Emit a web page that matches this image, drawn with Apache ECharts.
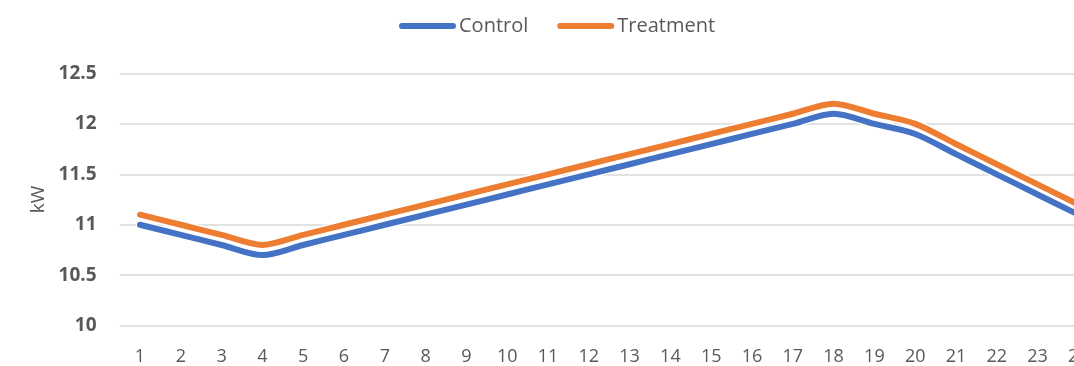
<!DOCTYPE html>
<html>
<head>
<meta charset="utf-8">
<title>Control vs Treatment (kW)</title>
<script src="https://cdn.jsdelivr.net/npm/echarts@6/dist/echarts.min.js"></script>
<style>
  html, body { margin: 0; padding: 0; background: #ffffff; }
  #chart { width: 1074px; height: 366px; }
</style>
</head>
<body>
<div id="chart"></div>
<script>
// Hour of day
const hours = ['1','2','3','4','5','6','7','8','9','10','11','12','13','14','15','16','17','18','19','20','21','22','23','24'];

// Average demand, kW
const control   = [11.0, 10.9, 10.8, 10.7, 10.8, 10.9, 11.0, 11.1, 11.2, 11.3, 11.4, 11.5, 11.6, 11.7, 11.8, 11.9, 12.0, 12.1, 12.0, 11.9, 11.7, 11.5, 11.3, 11.1];
const treatment = [11.1, 11.0, 10.9, 10.8, 10.9, 11.0, 11.1, 11.2, 11.3, 11.4, 11.5, 11.6, 11.7, 11.8, 11.9, 12.0, 12.1, 12.2, 12.1, 12.0, 11.8, 11.6, 11.4, 11.2];

// Value axis range
const yMin = 10, yMax = 12.5, yStep = 0.5;

const BLUE = '#4472C4', ORANGE = '#ED7D31', TEXT = '#595959';
const FONT = '"Open Sans", "DejaVu Sans", sans-serif';
const SMOOTH = 0.3;

// each line gets a white halo drawn just beneath it
function halo(name, data) {
  return {
    name: name + ' halo', type: 'line', data: data, smooth: SMOOTH,
    symbol: 'none', silent: true, legendHoverLink: false,
    lineStyle: { color: '#ffffff', width: 9, cap: 'round', join: 'round' }
  };
}
function line(name, data, color) {
  return {
    name: name, type: 'line', data: data, smooth: SMOOTH,
    symbol: 'none', itemStyle: { color: color },
    lineStyle: { color: color, width: 6, cap: 'round', join: 'round' }
  };
}

const chart = echarts.init(document.getElementById('chart'), null, { renderer: 'canvas' });
chart.setOption({
  animation: false,
  backgroundColor: '#ffffff',
  textStyle: { fontFamily: FONT },
  legend: {
    data: ['Control', 'Treatment'],
    left: 394, top: 11,
    itemWidth: 57, itemHeight: 6, itemGap: 29,
    icon: 'path://M3,0 H54 A3,3 0 0 1 54,6 H3 A3,3 0 0 1 3,0 Z',
    textStyle: { color: TEXT, fontSize: 20, fontFamily: FONT, padding: [0, 0, 0, -2] }
  },
  // the plot runs past the right edge of the canvas, so the last hour is cut off
  grid: {
    left: 119.6, top: 73.4, right: -24.8, bottom: 40.3,
    containLabel: false, outerBoundsMode: 'none'
  },
  xAxis: {
    type: 'category', data: hours, boundaryGap: true,
    axisLine: { show: false }, axisTick: { show: false },
    axisLabel: { color: TEXT, fontSize: 18, fontFamily: FONT, margin: 22, interval: 0 }
  },
  yAxis: {
    type: 'value', min: yMin, max: yMax, interval: yStep,
    name: 'kW', nameLocation: 'middle', nameGap: 70, nameRotate: 90,
    nameTextStyle: { color: TEXT, fontSize: 19, fontFamily: FONT },
    axisLine: { show: false }, axisTick: { show: false },
    axisLabel: { color: TEXT, fontSize: 19, fontWeight: 'bold', fontFamily: FONT, margin: 23 },
    splitLine: { lineStyle: { color: '#D9D9D9', width: 1.5 } }
  },
  series: [
    halo('Control', control),
    line('Control', control, BLUE),
    halo('Treatment', treatment),
    line('Treatment', treatment, ORANGE)
  ]
});
</script>
</body>
</html>
